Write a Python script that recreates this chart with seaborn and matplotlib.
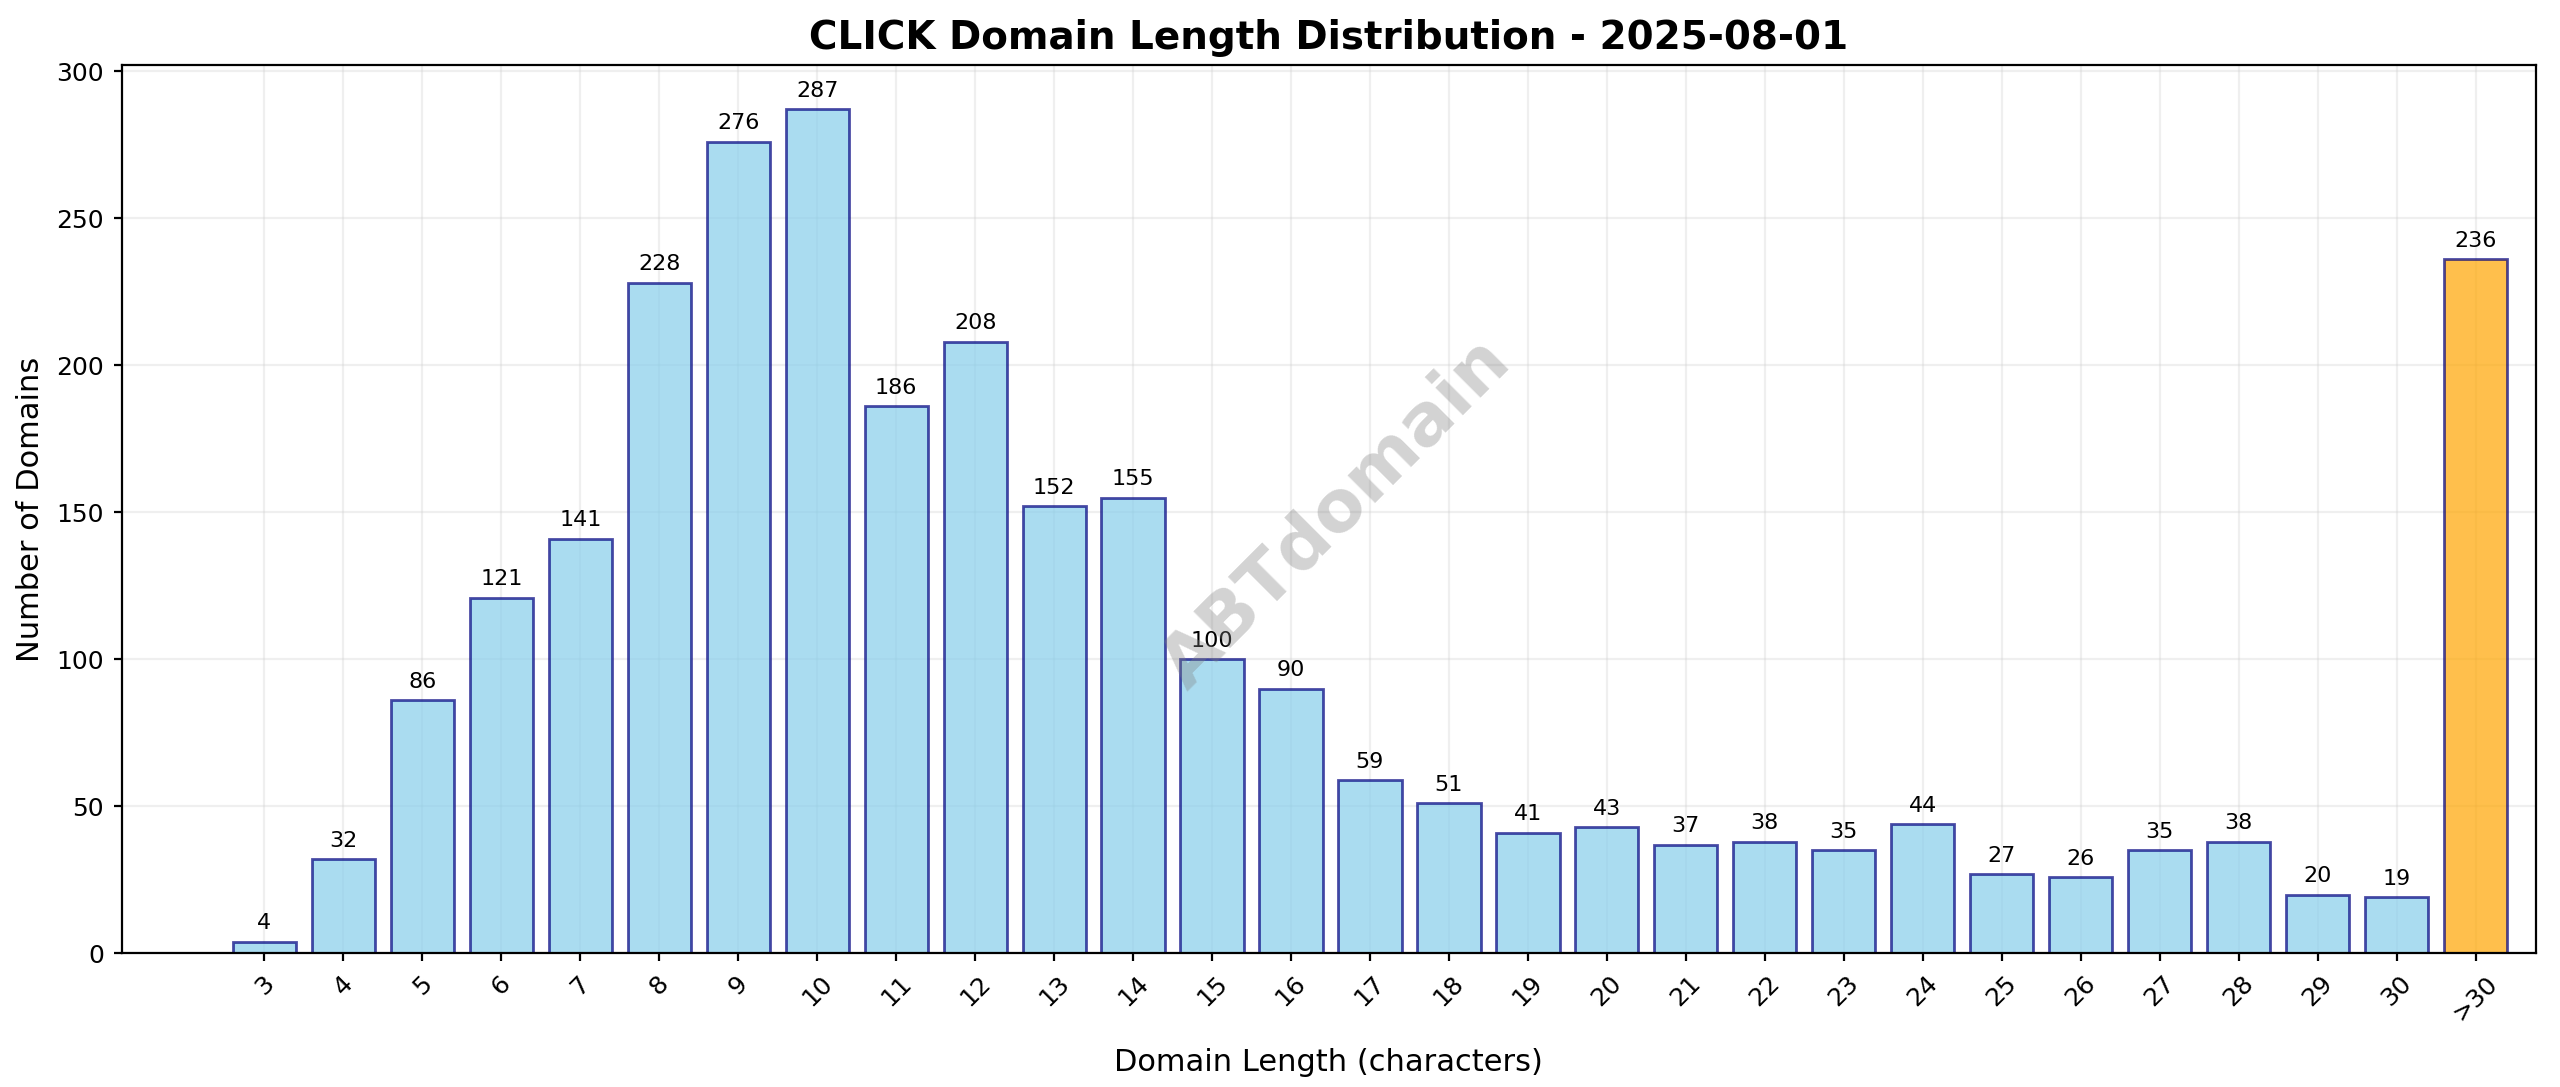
import matplotlib
matplotlib.use("Agg")
import matplotlib.pyplot as plt
import seaborn as sns
import pandas as pd

lengths = [str(i) for i in range(3, 31)] + [">30"]
counts = [4, 32, 86, 121, 141, 228, 276, 287, 186, 208, 152, 155, 100, 90, 59, 51,
          41, 43, 37, 38, 35, 44, 27, 26, 35, 38, 20, 19, 236]

df = pd.DataFrame({"length": lengths, "count": counts,
                   "grp": ["n"] * 28 + ["o"]})

sns.set_style("white")
plt.rcParams['font.family'] = ['DejaVu Sans']
fig, ax = plt.subplots(figsize=(12.8, 5.435), dpi=200)
sns.barplot(data=df, x="length", y="count", hue="grp", order=lengths,
            palette={"n": "skyblue", "o": "orange"}, dodge=False, legend=False,
            saturation=1, width=0.8, edgecolor="navy", linewidth=1, alpha=0.7, ax=ax)
for c in ax.containers:
    ax.bar_label(c, fmt="%d", padding=3, fontsize=8, color="black")
ax.set_xlim(-1.8, 28.76)
ax.set_ylim(0, 302)
ax.grid(True, alpha=0.3)
ax.set_axisbelow(True)
for s in ax.spines.values():
    s.set_visible(True); s.set_color("black"); s.set_linewidth(0.8)
ax.tick_params(axis="x", rotation=45, labelsize=9, bottom=True, length=3, colors="black")
ax.tick_params(axis="y", labelsize=9, left=True, length=3, colors="black")
ax.set_xlabel("Domain Length (characters)", fontsize=11, labelpad=8, color="black")
ax.set_ylabel("Number of Domains", fontsize=11, color="black")
ax.set_title("CLICK Domain Length Distribution - 2025-08-01", fontsize=14,
             fontweight="bold", color="black")
ax.text(0.503, 0.495, "ABTdomain", transform=ax.transAxes, fontsize=26, fontweight="bold",
        color="gray", alpha=0.35, rotation=45, ha="center", va="center")
fig.subplots_adjust(left=75/1570, right=1555/1570, top=1-40/667, bottom=1-585/667)
fig.savefig("out.png", dpi=200)
